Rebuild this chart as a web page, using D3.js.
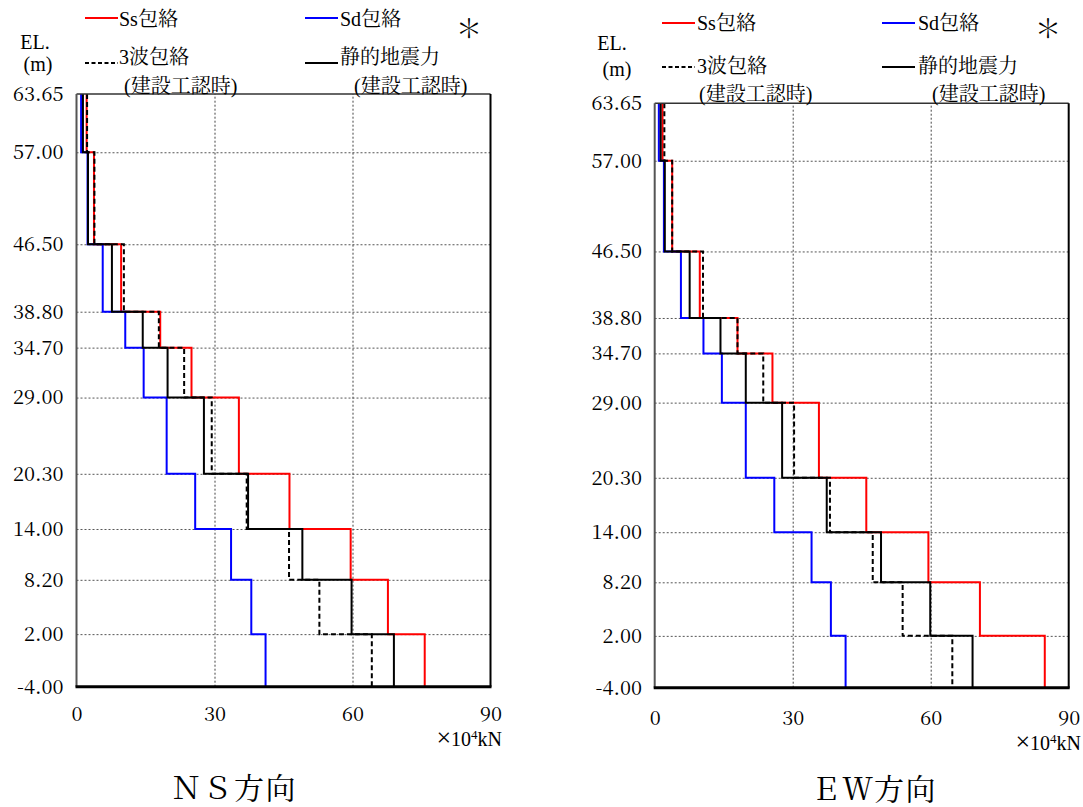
<!DOCTYPE html>
<html><head><meta charset="utf-8">
<script src="https://cdn.jsdelivr.net/npm/d3@7"></script>
<style>
html,body{margin:0;padding:0;background:#fff;}
svg{display:block;}
</style></head>
<body>
<svg id="chart" width="1083" height="807"></svg>
<script>
// ---- data ----
const levels = [63.65, 57.00, 46.50, 38.80, 34.70, 29.00, 20.30, 14.00, 8.20, 2.00, -4.00];
const xTicks = [0, 30, 60, 90];
const seriesNames = ["Ss包絡", "Sd包絡", "3波包絡", "静的地震力"];
const noteText = "(建設工認時)";
const unitText = ["×", "10", "4", "kN"];
const panelTitles = ["ＮＳ方向", "ＥＷ方向"];

const nsSs     = [2.2, 3.8, 9.7, 18.2, 25.0, 35.3, 46.3, 59.6, 67.7, 75.7];
const nsSd     = [1.0, 2.4, 5.7, 10.6, 14.6, 19.6, 25.8, 33.6, 38.0, 41.1];
const nsWave3  = [2.3, 3.9, 10.3, 17.9, 23.4, 29.4, 37.0, 46.2, 52.8, 64.2];
const nsStatic = [1.4, 2.5, 7.7, 14.4, 19.8, 27.7, 37.3, 49.1, 59.8, 69.0];

const ewSs     = [1.7, 3.8, 9.8, 18.0, 25.6, 35.7, 46.0, 59.5, 70.7, 84.8];
const ewSd     = [0.9, 2.0, 5.7, 10.6, 14.6, 19.8, 26.0, 34.1, 38.3, 41.5];
const ewWave3  = [2.1, 3.8, 10.5, 18.0, 23.6, 30.3, 38.1, 47.4, 53.9, 64.7];
const ewStatic = [1.3, 2.2, 7.6, 14.3, 19.8, 27.7, 37.4, 49.2, 59.9, 69.1];

// ---- layout ----
const FONT_NUM = '"Noto Serif CJK JP", "Liberation Serif", serif';
const FONT = '"Liberation Serif", "Noto Serif CJK JP", serif';
const svg = d3.select("#chart");
const styles = [
  {color:"#ff0000", dash:null},
  {color:"#0000ff", dash:null},
  {color:"#000000", dash:"5,3"},
  {color:"#000000", dash:null}
];
const drawOrder = [0, 1, 3, 2];

const panels = [
  {data:[nsSs, nsSd, nsWave3, nsStatic], x0:76.5, x1:490.5, yT:94, yB:686.7, labelPad:13, xPad:20,
   leg:{r1:18, r1b:26, r2:63, r2b:64, r3b:93, lx:85, tx:119, lx2:305, tx2:340, nx1:124, nx2:354, star:[469,38],
        el:[35,49], m:[38,71]},
   unit:[502,746], title:[234,799]},
  {data:[ewSs, ewSd, ewWave3, ewStatic], x0:654.7, x1:1068.7, yT:103.3, yB:687.7, labelPad:12.7, xPad:23,
   leg:{r1:23, r1b:30, r2:67, r2b:73, r3b:101, lx:662, tx:697, lx2:882, tx2:918, nx1:699, nx2:932, star:[1048,38],
        el:[612,50], m:[617,76]},
   unit:[1081,750], title:[874,800]}
];

function txt(sel, f) { return sel.style("font-family", f || FONT).attr("fill", "#000"); }

panels.forEach((p, pi) => {
  const x = d3.scaleLinear().domain([0, 90]).range([p.x0, p.x1]);
  const y = d3.scaleLinear().domain([-4, 63.65]).range([p.yB, p.yT]);
  const g = svg.append("g");

  // grid
  g.append("g").attr("transform", `translate(0,${p.yB})`)
    .call(d3.axisBottom(x).tickValues([30, 60]).tickSize(-(p.yB - p.yT)).tickFormat(""))
    .call(s => s.select(".domain").remove())
    .call(s => s.selectAll("line").attr("stroke", "#444").attr("stroke-dasharray", "2,2").attr("stroke-width", 1));
  g.append("g").attr("transform", `translate(${p.x0},0)`)
    .call(d3.axisLeft(y).tickValues(levels.slice(1, -1)).tickSize(-(p.x1 - p.x0)).tickFormat(""))
    .call(s => s.select(".domain").remove())
    .call(s => s.selectAll("line").attr("stroke", "#555").attr("stroke-dasharray", "2,2").attr("stroke-width", 1));

  // series
  const line = d3.line().x(d => x(d[0])).y(d => y(d[1]));
  drawOrder.forEach(si => {
    const vals = p.data[si];
    const pts = [];
    vals.forEach((v, i) => { pts.push([v, levels[i]]); pts.push([v, levels[i + 1]]); });
    g.append("path").datum(pts).attr("d", line).attr("fill", "none")
      .attr("stroke", styles[si].color).attr("stroke-width", 2)
      .attr("stroke-dasharray", styles[si].dash);
  });

  // frame
  g.append("line").attr("x1", p.x0).attr("x2", p.x1).attr("y1", p.yT).attr("y2", p.yT).attr("stroke", "#333").attr("stroke-width", 1.5);
  g.append("line").attr("x1", p.x1).attr("x2", p.x1).attr("y1", p.yT).attr("y2", p.yB).attr("stroke", "#000").attr("stroke-width", 2);
  g.append("line").attr("x1", p.x0).attr("x2", p.x0).attr("y1", p.yT).attr("y2", p.yB).attr("stroke", "#555").attr("stroke-width", 2);
  g.append("line").attr("x1", p.x0 - 1).attr("x2", p.x1 + 1).attr("y1", p.yB).attr("y2", p.yB).attr("stroke", "#000").attr("stroke-width", 3);

  // axes labels
  g.append("g").attr("transform", `translate(${p.x0},0)`)
    .call(d3.axisLeft(y).tickValues(levels).tickSize(0).tickPadding(p.labelPad).tickFormat(d => d.toFixed(2)))
    .call(s => s.select(".domain").remove())
    .call(s => txt(s.selectAll("text"), FONT_NUM).attr("font-size", 20));
  g.append("g").attr("transform", `translate(0,${p.yB})`)
    .call(d3.axisBottom(x).tickValues(xTicks).tickSize(0).tickPadding(p.xPad).tickFormat(d3.format("d")))
    .call(s => s.select(".domain").remove())
    .call(s => txt(s.selectAll("text"), FONT_NUM).attr("font-size", 20));

  // unit
  const ut = txt(g.append("text")).attr("x", p.unit[0]).attr("y", p.unit[1]).attr("text-anchor", "end").attr("font-size", 20);
  ut.append("tspan").attr("font-size", 26).text(unitText[0]);
  ut.append("tspan").text(unitText[1]);
  ut.append("tspan").attr("dy", -7).attr("font-size", 13).text(unitText[2]);
  ut.append("tspan").attr("dy", 7).text(unitText[3]);

  // title
  txt(g.append("text")).attr("x", p.title[0]).attr("y", p.title[1]).attr("text-anchor", "middle")
    .attr("font-size", 30).attr("letter-spacing", 1.5).text(panelTitles[pi]);

  // legend
  const L = p.leg;
  const legItems = [
    {si:0, lx:L.lx, tx:L.tx, ly:L.r1, tb:L.r1b},
    {si:1, lx:L.lx2, tx:L.tx2, ly:L.r1, tb:L.r1b},
    {si:2, lx:L.lx, tx:L.tx, ly:L.r2, tb:L.r2b},
    {si:3, lx:L.lx2, tx:L.tx2, ly:L.r2, tb:L.r2b}
  ];
  legItems.forEach(it => {
    g.append("line").attr("x1", it.lx).attr("x2", it.lx + 33).attr("y1", it.ly).attr("y2", it.ly)
      .attr("stroke", styles[it.si].color).attr("stroke-width", 2)
      .attr("stroke-dasharray", styles[it.si].dash ? "4,2.5" : null);
    txt(g.append("text")).attr("x", it.tx).attr("y", it.tb).attr("font-size", 20).text(seriesNames[it.si]);
  });
  txt(g.append("text")).attr("x", L.nx1).attr("y", L.r3b).attr("font-size", 20).text(noteText);
  txt(g.append("text")).attr("x", L.nx2).attr("y", L.r3b).attr("font-size", 20).text(noteText);
  txt(g.append("text"), FONT_NUM).attr("x", L.star[0]).attr("y", L.star[1]).attr("text-anchor", "middle")
    .attr("font-size", 26).text("＊");
  txt(g.append("text")).attr("x", L.el[0]).attr("y", L.el[1]).attr("text-anchor", "middle").attr("font-size", 20).text("EL.");
  txt(g.append("text")).attr("x", L.m[0]).attr("y", L.m[1]).attr("text-anchor", "middle").attr("font-size", 20).text("(m)");
});
</script>
</body></html>
